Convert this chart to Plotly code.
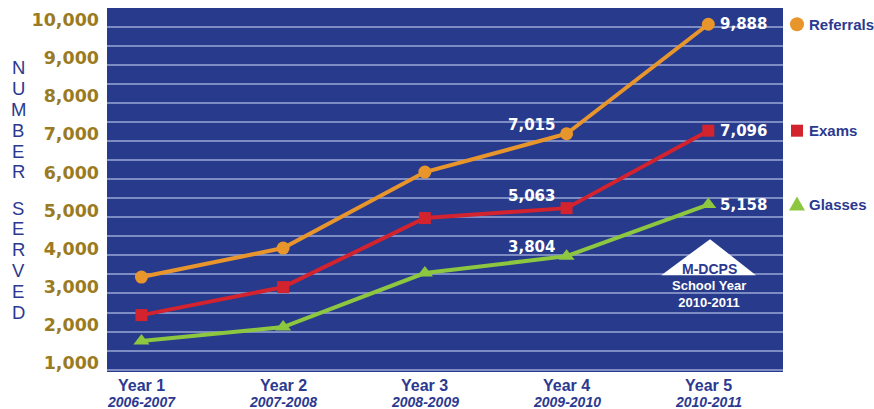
import plotly.graph_objects as go

# ---- data ----
years = ["Year 1", "Year 2", "Year 3", "Year 4", "Year 5"]
school_years = ["2006-2007", "2007-2008", "2008-2009", "2009-2010", "2010-2011"]
referrals = [3255, 4016, 6010, 7015, 9888]
exams = [2257, 2992, 4803, 5063, 7096]
glasses = [1575, 1942, 3360, 3804, 5158]
y_tick_vals = [1000, 2000, 3000, 4000, 5000, 6000, 7000, 8000, 9000, 10000]
y_tick_text = ["1,000", "2,000", "3,000", "4,000", "5,000", "6,000", "7,000", "8,000", "9,000", "10,000"]

BG = "#283a8c"
GRID = "#7d8dc4"
BLUE = "#2b3990"
GOLD = "#9a7b22"
ORANGE = "#e8962c"
RED = "#d2232e"
GREEN = "#8dc63f"

series = [
    ("Referrals", referrals, ORANGE, "circle", 13),
    ("Exams", exams, RED, "square", 12),
    ("Glasses", glasses, GREEN, "triangle-up", 14),
]

ml, mr, mt, mb = 107, 91, 8, 37
W, H = 874, 409
pw, ph = W - ml - mr, H - mt - mb

x_idx = list(range(len(years)))
fig = go.Figure()
for name, vals, col, sym, size in series:
    fig.add_trace(go.Scatter(
        x=x_idx, y=vals, mode="lines+markers", name=name,
        line=dict(color=col, width=4),
        marker=dict(color=col, symbol=sym, size=size),
        showlegend=False, hoverinfo="skip",
    ))

annotations = []
shapes = []

# legend beside the last points (paper x, data y)
legend_marker_x = (797 - ml) / pw
legend_text_x = (807 - ml) / pw
for name, vals, col, sym, size in series:
    common = dict(xref="paper", yref="y", xsizemode="pixel", ysizemode="pixel",
                  xanchor=legend_marker_x, yanchor=vals[-1],
                  fillcolor=col, line=dict(width=0), layer="above")
    if sym == "circle":
        shapes.append(dict(type="circle", x0=-7, x1=7, y0=-7, y1=7, **common))
    elif sym == "square":
        shapes.append(dict(type="rect", x0=-6, x1=6, y0=-6, y1=6, **common))
    else:
        shapes.append(dict(type="path", path="M -8 -6 L 0 8 L 8 -6 Z", **common))
    annotations.append(dict(
        x=legend_text_x, y=vals[-1], xref="paper", yref="y", text=f"<b>{name}</b>",
        showarrow=False, xanchor="left", yanchor="middle",
        font=dict(family="Liberation Sans, Arial", size=15, color=BLUE),
    ))

label_font = dict(family="DejaVu Sans", size=15, color="white", weight="bold")
# final-year labels (right of point)
for name, vals, col, sym, size in series:
    annotations.append(dict(
        x=4, y=vals[-1], xref="x", yref="y", text=f"<b>{vals[-1]:,}</b>",
        showarrow=False, xanchor="left", yanchor="middle", xshift=10,
        font=label_font,
    ))
# year-4 labels (above-left of point)
for (name, vals, col, sym, size), ys in zip(series, [9, 12, 9]):
    annotations.append(dict(
        x=3, y=vals[3], xref="x", yref="y", text=f"<b>{vals[3]:,}</b>",
        showarrow=False, xanchor="right", yanchor="middle", xshift=-10, yshift=ys,
        font=label_font,
    ))

# x axis labels
for i, (yr, sy) in enumerate(zip(years, school_years)):
    annotations.append(dict(
        x=i, y=0, xref="x", yref="paper", text=f"<b>{yr}</b>", showarrow=False,
        yanchor="middle", yshift=-13,
        font=dict(family="Liberation Sans, Arial", size=16, color=BLUE),
    ))
    annotations.append(dict(
        x=i, y=0, xref="x", yref="paper", text=f"<b><i>{sy}</i></b>", showarrow=False,
        yanchor="middle", yshift=-29.5,
        font=dict(family="Liberation Sans, Arial", size=14, color=BLUE),
    ))

# vertical axis title, one letter per row
for word, first_y in [("NUMBER", 68), ("SERVED", 208)]:
    for k, ch in enumerate(word):
        ypix = first_y + k * 20.8
        annotations.append(dict(
            x=(18 - ml) / pw, y=(H - mb - ypix) / ph, xref="paper", yref="paper",
            text=ch, showarrow=False, xanchor="center", yanchor="middle",
            font=dict(family="Liberation Sans, Arial", size=18.5, color=BLUE),
        ))

# M-DCPS badge
shapes.append(dict(
    type="path", xref="x", yref="paper",
    path="M 3.668 0.266 L 4.012 0.365 L 4.336 0.266 Z",
    fillcolor="white", line=dict(width=0), layer="above",
))
annotations.append(dict(
    x=4, y=0.283, xref="x", yref="paper", text="<b>M-DCPS</b>", showarrow=False,
    yanchor="middle", xanchor="center", xshift=1,
    font=dict(family="Liberation Sans, Arial", size=14, color=BLUE),
))
annotations.append(dict(
    x=4, y=0.213, xref="x", yref="paper", text="<b>School Year<br>2010-2011</b>",
    showarrow=False, yanchor="middle", xanchor="center", xshift=1,
    font=dict(family="Liberation Sans, Arial", size=13, color="white"),
))

fig.update_layout(
    width=W, height=H,
    margin=dict(l=ml, r=mr, t=mt, b=mb, pad=0),
    paper_bgcolor="white", plot_bgcolor=BG,
    annotations=annotations,
    shapes=shapes,
    xaxis=dict(range=[-0.243, 4.527], showgrid=False, zeroline=False,
               showticklabels=False, ticks="", fixedrange=True),
    yaxis=dict(range=[764, 10315], tickmode="array", tickvals=y_tick_vals,
               ticktext=y_tick_text, showgrid=False, zeroline=False, ticks="",
               ticklabelstandoff=7,
               tickfont=dict(family="DejaVu Sans", size=17.5, color=GOLD, weight="bold"),
               minor=dict(tickmode="linear", tick0=324, dtick=500, showgrid=True,
                          gridcolor=GRID, gridwidth=1.5, ticks="")),
)

fig.write_html("out.html", config={"displayModeBar": False},
               post_script="document.body.style.margin='0';")
